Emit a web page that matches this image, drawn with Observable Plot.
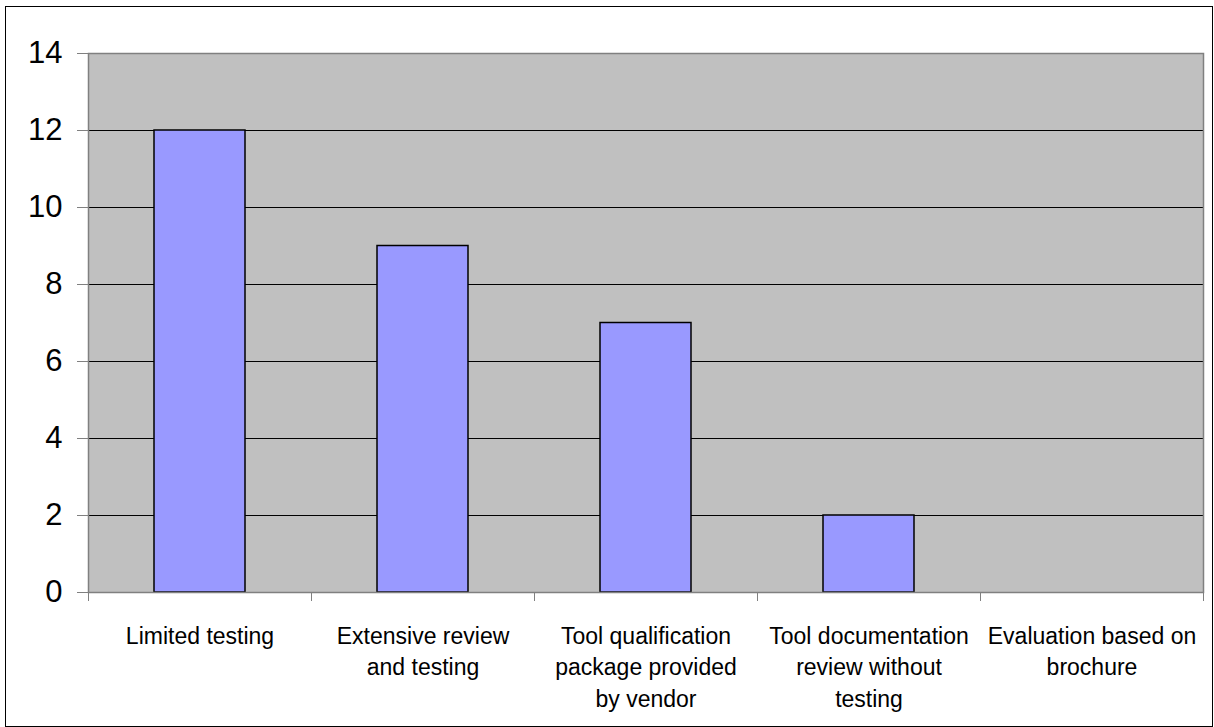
<!DOCTYPE html>
<html>
<head>
<meta charset="utf-8">
<script src="https://cdn.jsdelivr.net/npm/d3@7"></script>
<script src="https://cdn.jsdelivr.net/npm/@observablehq/plot@0.6"></script>
<style>
  html, body { margin: 0; padding: 0; background: white; }
  #wrap { position: relative; width: 1214px; height: 727px; overflow: hidden; }
  #border { position: absolute; left: 5px; top: 6px; width: 1208px; height: 721px; box-sizing: border-box; border: 1.5px solid #000; pointer-events: none; }
</style>
</head>
<body>
<div id="wrap"><div id="border"></div></div>
<script>
const categories = [
  "Limited testing",
  "Extensive review\nand testing",
  "Tool qualification\npackage provided\nby vendor",
  "Tool documentation\nreview without\ntesting",
  "Evaluation based on\nbrochure"
];
const values = [12, 9, 7, 2, 0];
const yTicks = [0, 2, 4, 6, 8, 10, 12, 14];

const data = categories.map((c, i) => ({category: c, index: i, value: values[i]}));

const chart = Plot.plot({
  width: 1214,
  height: 727,
  marginLeft: 88,
  marginRight: 11,
  marginTop: 53,
  marginBottom: 135,
  style: {fontFamily: "'Liberation Sans', Arial, sans-serif", background: "transparent", color: "black"},
  x: {domain: [0, categories.length], label: null},
  y: {domain: [0, 14], label: null},
  marks: [
    Plot.frame({fill: "#C0C0C0", stroke: null}),
    Plot.gridY(yTicks.filter(t => t > 0 && t < 14), {stroke: "#000", strokeOpacity: 1, strokeWidth: 1}),
    Plot.rectY(data, {
      x1: d => d.index,
      x2: d => d.index + 1,
      y: "value",
      insetLeft: 66,
      insetRight: 66,
      fill: "#9999FF",
      stroke: "#000",
      strokeWidth: 1.5
    }),
    Plot.frame({stroke: "#808080", strokeWidth: 1.5}),
    Plot.axisY(yTicks, {label: null, tickSize: 11, tickPadding: 15, fontSize: 31, stroke: "#808080", color: "#000", tickFormat: d => String(d)}),
    Plot.axisX(d3.range(categories.length + 1), {label: null, tickSize: 9, stroke: "#808080", tickFormat: () => ""}),
    Plot.axisX(categories.map((_, i) => i + 0.5), {
      label: null,
      tickSize: 0,
      tickPadding: 29,
      fontSize: 23,
      lineHeight: 1.37,
      color: "#000",
      tickFormat: d => categories[Math.round(d - 0.5)]
    })
  ]
});
document.getElementById("wrap").prepend(chart);
</script>
</body>
</html>
